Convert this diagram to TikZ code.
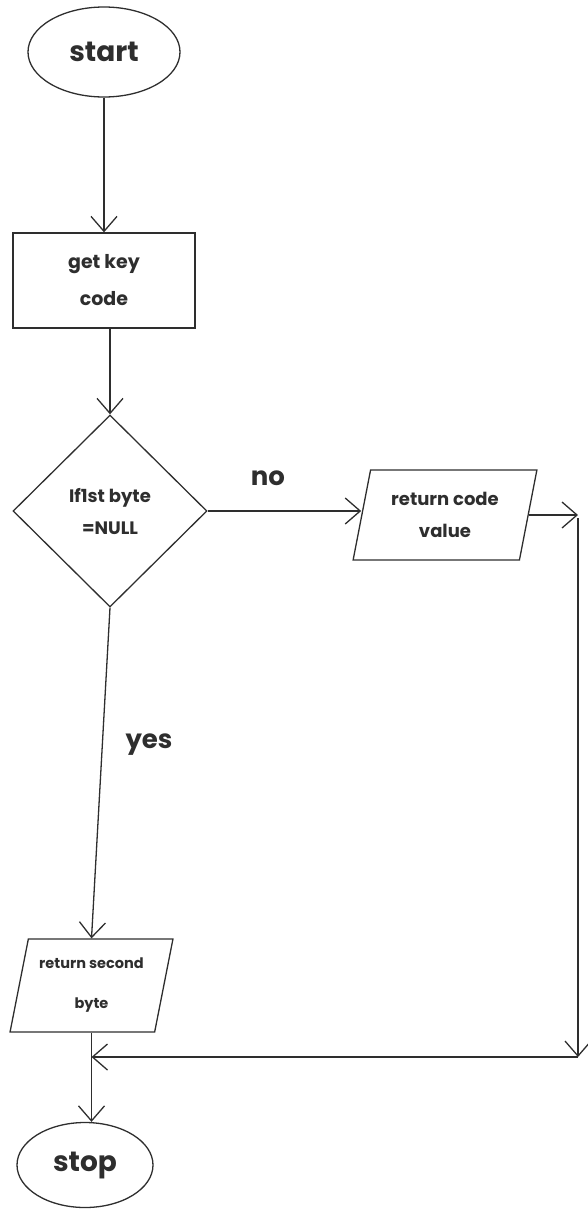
\documentclass[tikz,border=0pt]{standalone}
\usepackage{fontspec}
\setmainfont{Poppins}
\usetikzlibrary{shapes.geometric,arrows.meta}

\definecolor{ink}{HTML}{2E2E2E}

\tikzset{
  every node/.style={text=ink},
  flowline/.style={draw=ink, line width=1.3pt},
  arr/.style={flowline, -{Straight Barb[length=15pt,width=26pt,line width=1.3pt]}},
  terminal/.style={ellipse, draw=ink, line width=1.3pt, inner sep=0pt,
    font=\bfseries\fontsize{28}{30}\selectfont},
  processbox/.style={rectangle, draw=ink, line width=1.3pt, inner sep=0pt,
    align=center},
  decision/.style={diamond, draw=ink, line width=1.3pt, inner sep=0pt,
    align=center},
  iobox/.style={trapezium, trapezium left angle=74.5, trapezium right angle=105.5,
    trapezium stretches=true, draw=ink, line width=1.3pt, inner sep=0pt,
    align=center},
  smalltext/.style 2 args={font=\bfseries\fontsize{#1}{#2}\selectfont},
  branch/.style={font=\bfseries\fontsize{26}{28}\selectfont}
}

\begin{document}
\begin{tikzpicture}[x=1pt,y=-1pt]
  \useasboundingbox (0,0) rectangle (587,1210);

  % shapes of the flow
  \node[terminal, minimum width=152pt, minimum height=90pt] (start) at (104,52) {start};
  \node[processbox, smalltext={19}{37}, minimum width=182pt, minimum height=95pt] (getkey) at (104,280.5) {get key\\code};
  \node[decision, smalltext={18}{32}, minimum width=194pt, minimum height=192pt] (check) at (110,511) {If1st byte\\=NULL};
  \node[iobox, smalltext={18}{32}, minimum width=184pt, minimum height=90pt] (retcode) at (445,515) {return code\\value};
  \node[iobox, smalltext={14.5}{40}, minimum width=163pt, minimum height=93pt] (retsecond) at (91.5,985.5) {return second\\byte};
  \node[terminal, minimum width=136pt, minimum height=85pt] (stop) at (85,1165) {stop};

  % branch labels
  \node[branch] (nolabel) at (268,478) {no};
  \node[branch] (yeslabel) at (149,745) {yes};

  % routing points of the return path
  \coordinate (corner) at (578,518);
  \coordinate (bottomcorner) at (578,1057);
  \coordinate (join) at (retsecond.south |- bottomcorner);

  % connectors
  \draw[arr] (start.south) -- (getkey.north);
  \draw[arr] (getkey.south -| check.north) -- (check.north);
  \draw[arr] (check.east) -- (check.east -| retcode.west);
  \draw[arr] (check.south) -- (retsecond.north);
  \draw[arr] (retcode.east) -- (retcode.east -| corner);
  \draw[arr] (corner) -- (bottomcorner);
  \draw[arr] (bottomcorner) -- (join);
  \draw[arr] (retsecond.south) -- (retsecond.south |- stop.north);
\end{tikzpicture}
\end{document}
